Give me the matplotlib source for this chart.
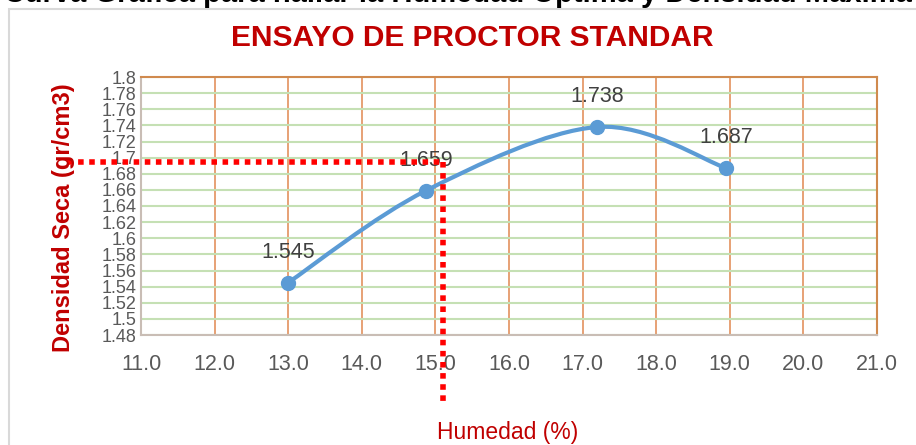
import matplotlib
matplotlib.use("Agg")
import matplotlib.pyplot as plt
import matplotlib.patches as mpatches
from matplotlib.path import Path
import numpy as np

plt.rcParams['font.family'] = ['Liberation Sans', 'DejaVu Sans']

# data
humedad = [13.0, 14.87, 17.2, 18.95]
densidad = [1.545, 1.659, 1.738, 1.687]
labels = ["1.545", "1.659", "1.738", "1.687"]

# optimum lines (dotted red)
hum_opt = 15.1
dens_max = 1.694

x_ticks = np.arange(11, 21.5, 1.0)
y_ticks = np.round(np.arange(1.48, 1.801, 0.02), 2)
y_ticklabels = [("%.2f" % v).rstrip("0").rstrip(".") for v in y_ticks]

fig = plt.figure(figsize=(9.16, 4.45), dpi=100)
ax = fig.add_axes([141 / 916, 1 - 335 / 445, (877 - 141) / 916, (335 - 77) / 445])

# gray frame of the chart object (cut at right/bottom)
fig.patches.append(mpatches.Rectangle((9 / 916, -0.1), 1.2, 1 - 9 / 445 + 0.1,
                                      transform=fig.transFigure, fill=False,
                                      edgecolor="#D9D9D9", lw=1.5))

# cut-off heading above the chart
fig.text(0.49, 1 - 1.5 / 445, "- Curva Grafica para hallar la Humedad Optima y Densidad Maxima",
         ha="center", va="baseline", fontsize=21, fontweight="bold", color="black")

ax.set_xlim(11, 21)
ax.set_ylim(1.48, 1.80)
ax.set_xticks(x_ticks)
ax.set_xticklabels(["%.1f" % v for v in x_ticks], fontsize=15.5)
ax.set_yticks(y_ticks)
ax.set_yticklabels(y_ticklabels, fontsize=13)
ax.tick_params(axis="both", length=0, colors="#595959")
ax.tick_params(axis="x", pad=14)
ax.tick_params(axis="y", pad=3)

ax.grid(axis="x", color="#E59A6A", lw=1.3)
ax.grid(axis="y", color="#C5E0B4", lw=1.5)
ax.set_axisbelow(True)
for side in ["left", "bottom"]:
    ax.spines[side].set_color("#C9BDB5")
    ax.spines[side].set_linewidth(1.5)
for side in ["top", "right"]:
    ax.spines[side].set_color("#D08A4E")
    ax.spines[side].set_linewidth(1.5)

# smoothed line (Catmull-Rom style, like Excel's smooth line)
pts = np.column_stack([humedad, densidad])
verts = [tuple(pts[0])]
codes = [Path.MOVETO]
n = len(pts)
for i in range(n - 1):
    p0 = pts[i - 1] if i > 0 else pts[i]
    p1 = pts[i]
    p2 = pts[i + 1]
    p3 = pts[i + 2] if i + 2 < n else pts[i + 1]
    c1 = p1 + (p2 - p0) / 6.0
    c2 = p2 - (p3 - p1) / 6.0
    verts += [tuple(c1), tuple(c2), tuple(p2)]
    codes += [Path.CURVE4] * 3
ax.add_patch(mpatches.PathPatch(Path(verts, codes), fill=False,
                                edgecolor="#5B9BD5", lw=3, zorder=3))
ax.plot(humedad, densidad, ls="none", marker="o", ms=10,
        color="#5B9BD5", zorder=4)

for xv, yv, lab in zip(humedad, densidad, labels):
    ax.annotate(lab, (xv, yv), xytext=(0, 22), textcoords="offset points",
                ha="center", va="center", fontsize=15.5, color="#404040", zorder=5)

# dotted red guides to the optimum
ax.plot([10.0, hum_opt], [dens_max, dens_max], color="#FF0000", lw=4,
        ls=(0, (1, 1)), clip_on=False, zorder=6)
ax.plot([hum_opt, hum_opt], [dens_max, 1.398], color="#FF0000", lw=4,
        ls=(0, (1, 1)), clip_on=False, zorder=6)

fig.text(472 / 916, 1 - 38 / 445, "ENSAYO DE PROCTOR STANDAR", ha="center", va="center",
         fontsize=21.5, fontweight="bold", color="#C00000")
fig.text(64 / 916, 1 - 218 / 445, "Densidad Seca (gr/cm3)", ha="center", va="center",
         rotation=90, fontsize=17, fontweight="bold", color="#C00000")
fig.text(508 / 916, 1 - 432 / 445, "Humedad (%)", ha="center", va="center",
         fontsize=16.5, color="#C00000")

fig.savefig("out.png", dpi=100)
